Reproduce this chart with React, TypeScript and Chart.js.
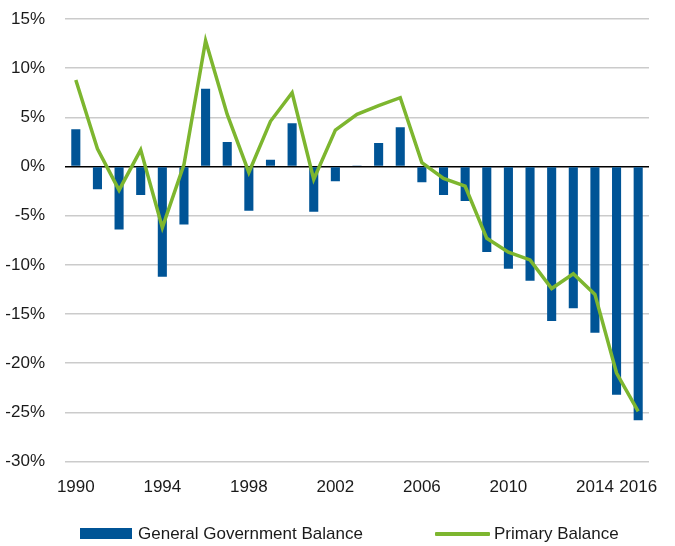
import React, { useEffect, useRef } from "react";
import { Chart, registerables } from "chart.js";

Chart.register(...registerables);

const years: string[] = [
  "1990", "1991", "1992", "1993", "1994", "1995", "1996", "1997", "1998",
  "1999", "2000", "2001", "2002", "2003", "2004", "2005", "2006", "2007",
  "2008", "2009", "2010", "2011", "2012", "2013", "2014", "2015", "2016",
];

const generalGovernmentBalance: number[] = [
  3.8, -2.3, -6.4, -2.9, -11.2, -5.9, 7.9, 2.5, -4.5,
  0.7, 4.4, -4.6, -1.5, 0.1, 2.4, 4.0, -1.6, -2.9,
  -3.5, -8.7, -10.4, -11.6, -15.7, -14.4, -16.9, -23.2, -25.8,
];

const primaryBalance: number[] = [
  8.8, 1.8, -2.4, 1.7, -6.2, 0.2, 12.8, 5.3, -0.6,
  4.6, 7.5, -1.3, 3.7, 5.3, 6.2, 7.0, 0.4, -1.2,
  -2.0, -7.3, -8.7, -9.5, -12.4, -10.9, -13.0, -21.0, -24.9,
];

const shownYearLabels: string[] = ["1990", "1994", "1998", "2002", "2006", "2010", "2014", "2016"];

const seriesNames: string[] = ["General Government Balance", "Primary Balance"];

const BLUE = "#005496";
const GREEN = "#7DB62F";
const FONT = "'Liberation Sans', Arial, sans-serif";
const FONT_SIZE = 17;

export default function App() {
  const canvasRef = useRef<HTMLCanvasElement | null>(null);

  useEffect(() => {
    if (!canvasRef.current) return;
    const chart = new Chart(canvasRef.current, {
      type: "bar",
      data: {
        labels: years,
        datasets: [
          {
            type: "line",
            label: seriesNames[1],
            data: primaryBalance,
            borderColor: GREEN,
            backgroundColor: GREEN,
            borderWidth: 3.5,
            pointRadius: 0,
            tension: 0,
            order: 1,
          },
          {
            type: "bar",
            label: seriesNames[0],
            data: generalGovernmentBalance,
            backgroundColor: BLUE,
            borderWidth: 0,
            barPercentage: 0.42,
            categoryPercentage: 1,
            order: 2,
          },
        ],
      },
      options: {
        animation: false,
        responsive: false,
        maintainAspectRatio: false,
        layout: { padding: { left: 0, top: 19, right: 26, bottom: 32 } },
        plugins: {
          legend: { display: false },
          tooltip: { enabled: false },
        },
        scales: {
          x: {
            grid: { display: false, drawTicks: false },
            border: { display: false },
            ticks: {
              autoSkip: false,
              maxRotation: 0,
              minRotation: 0,
              padding: 16,
              color: "#1a1a1a",
              font: { family: FONT, size: FONT_SIZE },
              callback: (_v: any, i: number) =>
                shownYearLabels.includes(years[i]) ? years[i] : "",
            },
          },
          y: {
            min: -30,
            max: 15,
            afterFit: (scale: any) => {
              scale.width = 65;
            },
            border: { display: false },
            grid: {
              drawTicks: true,
              tickLength: 20,
              tickColor: "rgba(0,0,0,0)",
              lineWidth: 1.6,
              color: (ctx: any) => (ctx.tick && ctx.tick.value === 0 ? "#000000" : "#cbcbcb"),
            },
            ticks: {
              stepSize: 5,
              padding: 0,
              color: "#1a1a1a",
              font: { family: FONT, size: FONT_SIZE },
              callback: (v: any) => `${v}%`,
            },
          },
        },
      },
    });
    return () => chart.destroy();
  }, []);

  const legendText: React.CSSProperties = {
    position: "absolute",
    top: 522,
    height: 24,
    lineHeight: "24px",
    fontFamily: FONT,
    fontSize: FONT_SIZE,
    color: "#1a1a1a",
    whiteSpace: "nowrap",
  };

  return (
    <div style={{ position: "absolute", left: 0, top: 0, width: 675, height: 546, background: "#fff" }}>
      <canvas ref={canvasRef} width={675} height={546} style={{ display: "block" }} />
      <div style={{ position: "absolute", left: 80, top: 528, width: 52, height: 11, background: BLUE }} />
      <div style={{ ...legendText, left: 138 }}>{seriesNames[0]}</div>
      <div style={{ position: "absolute", left: 435, top: 532, width: 55, height: 4, background: GREEN, borderRadius: 1 }} />
      <div style={{ ...legendText, left: 494 }}>{seriesNames[1]}</div>
    </div>
  );
}
